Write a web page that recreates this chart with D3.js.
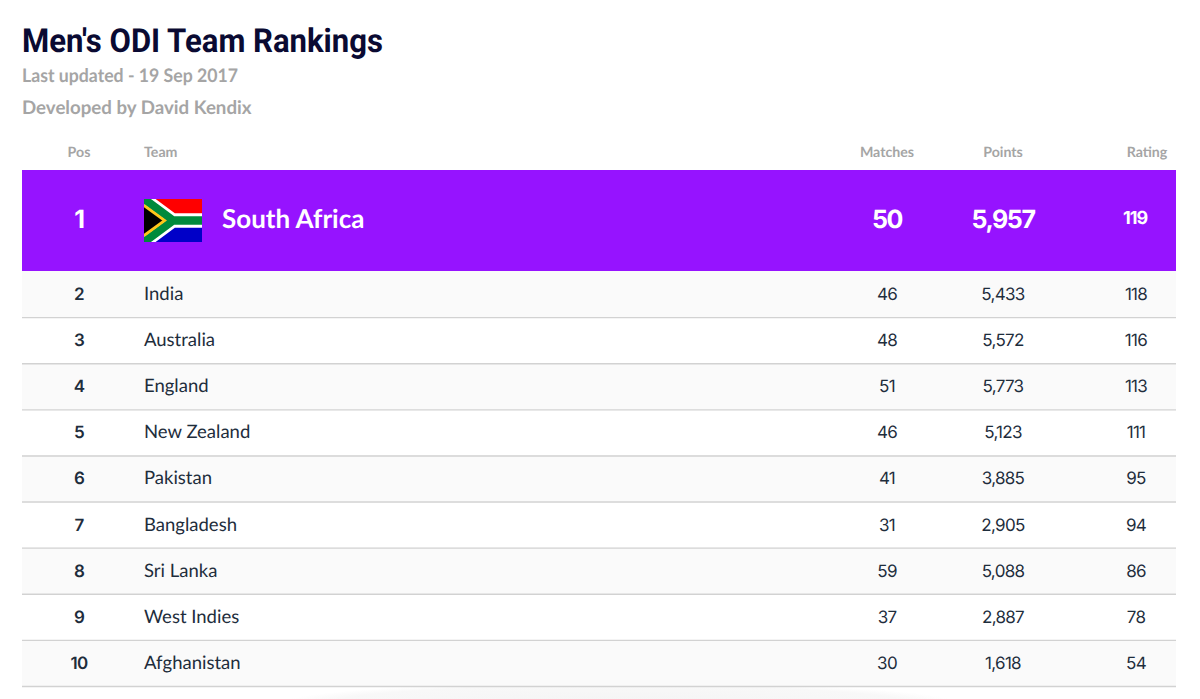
<!DOCTYPE html>
<html>
<head>
<meta charset="utf-8">
<script src="https://cdn.jsdelivr.net/npm/d3@7"></script>
<style>
html, body { margin: 0; padding: 0; background: #fff; overflow: hidden; }
svg { display: block; }
text { text-rendering: geometricPrecision; }
</style>
</head>
<body>
<svg id="chart" width="1200" height="699"></svg>
<script>
var positions = [1, 2, 3, 4, 5, 6, 7, 8, 9, 10];
var teams = ['South Africa', 'India', 'Australia', 'England', 'New Zealand', 'Pakistan', 'Bangladesh', 'Sri Lanka', 'West Indies', 'Afghanistan'];
var matches = [50, 46, 48, 51, 46, 41, 31, 59, 37, 30];
var points = [5957, 5433, 5572, 5773, 5123, 3885, 2905, 5088, 2887, 1618];
var ratings = [119, 118, 116, 113, 111, 95, 94, 86, 78, 54];
var headers = ['Pos', 'Team', 'Matches', 'Points', 'Rating'];

var left = 22, right = 1176;
var svg = d3.select('#chart');
var fmt = d3.format(',');

// columns
var col = { pos: 79, team: 144, matches: 887, points: 1003, rating: 1135 };

// rows below the highlighted one
var y = d3.scaleBand().domain(positions.slice(1)).range([271, 686]);

var shadow = svg.append('defs').append('radialGradient').attr('id', 'shade');
shadow.append('stop').attr('offset', '0%').attr('stop-color', '#f4f4f4');
shadow.append('stop').attr('offset', '85%').attr('stop-color', '#f8f8f8');
shadow.append('stop').attr('offset', '100%').attr('stop-color', '#fff');
svg.append('ellipse').attr('cx', 620).attr('cy', 704).attr('rx', 340).attr('ry', 22).attr('fill', 'url(#shade)');

svg.append('text').text("Men's ODI Team Rankings")
    .attr('x', 22).attr('y', 52)
    .attr('textLength', 361).attr('lengthAdjust', 'spacingAndGlyphs')
    .style('font', '700 33px Roboto').attr('fill', '#0a0a32');

svg.append('text').text('Last updated - 19 Sep 2017')
    .attr('x', 22).attr('y', 82)
    .attr('textLength', 216).attr('lengthAdjust', 'spacingAndGlyphs')
    .style('font', '700 18.7px Lato').attr('fill', '#a5a5a5');
svg.append('text').text('Developed by David Kendix')
    .attr('x', 22).attr('y', 114)
    .style('font', '700 18.7px Lato').attr('fill', '#a5a5a5');

// header
var headX = [79, 144, 887, 1003, 1147];
var headAnchor = ['middle', 'start', 'middle', 'middle', 'middle'];
svg.selectAll('.head').data(headers).enter().append('text')
    .attr('class', 'head').text(d => d)
    .attr('x', (d, i) => headX[i]).attr('y', 157)
    .attr('text-anchor', (d, i) => headAnchor[i])
    .style('font', '700 14.2px Lato').attr('fill', '#a5a5a5');

// first place
svg.append('rect').attr('x', left).attr('y', 170).attr('width', right - left).attr('height', 101).attr('fill', '#9613ff');

var flag = svg.append('svg').attr('x', 144).attr('y', 199).attr('width', 58).attr('height', 43)
    .attr('viewBox', '0 0 90 60').attr('preserveAspectRatio', 'none');
flag.append('rect').attr('width', 90).attr('height', 30).attr('fill', '#f00');
flag.append('rect').attr('y', 30).attr('width', 90).attr('height', 30).attr('fill', '#0000c8');
flag.append('path').attr('d', 'M0 0L45 30L0 60M45 30H90').attr('fill', 'none').attr('stroke', '#fff').attr('stroke-width', 20);
flag.append('path').attr('d', 'M0 0L45 30L0 60M45 30H90').attr('fill', 'none').attr('stroke', '#008a3c').attr('stroke-width', 12);
flag.append('path').attr('d', 'M0 9L32 30L0 51').attr('fill', '#000').attr('stroke', '#ffc61a').attr('stroke-width', 4);

var bigNum = { font: '700 25px Inter', spacing: '-1.4px' };
var topRow = svg.append('g').attr('fill', '#fff');
topRow.append('text').text(teams[0]).attr('x', 222).attr('y', 228).style('font', '700 26px Lato');
[[positions[0], col.pos], [matches[0], col.matches], [fmt(points[0]), col.points]].forEach(function(c) {
    topRow.append('text').text(c[0]).attr('x', c[1]).attr('y', 228).attr('text-anchor', 'middle')
        .style('font', bigNum.font).style('letter-spacing', bigNum.spacing);
});
topRow.append('text').text(ratings[0]).attr('x', col.rating).attr('y', 224).attr('text-anchor', 'middle')
    .style('font', '700 18px Inter').style('letter-spacing', '-1px');

// the other nine
var rest = positions.slice(1);

svg.selectAll('.band').data(rest).enter().append('rect')
    .attr('class', 'band')
    .attr('x', left).attr('y', d => y(d)).attr('width', right - left).attr('height', y.bandwidth())
    .attr('fill', d => d % 2 === 0 ? '#fafafa' : '#fff');

var rows = svg.selectAll('.row').data(rest).enter().append('g')
    .attr('class', 'row')
    .attr('transform', d => 'translate(0,' + y(d) + ')');

rows.append('line').attr('x1', left).attr('x2', right)
    .attr('y1', y.bandwidth() + 0.5).attr('y2', y.bandwidth() + 0.5)
    .attr('stroke', '#d2d2d2').attr('stroke-width', 1.4);

function numCell(value, x, weight) {
    rows.append('text').text(value).attr('x', x).attr('y', 29).attr('text-anchor', 'middle')
        .style('font', weight + ' 17px Inter').style('letter-spacing', '-0.7px').attr('fill', '#1e2d3c');
}

rows.append('text').text(d => teams[d - 1]).attr('x', col.team).attr('y', 29)
    .style('font', '400 18.5px Lato').attr('fill', '#1e2d3c');
numCell(d => d, col.pos, 600);
numCell(d => matches[d - 1], col.matches, 400);
numCell(d => fmt(points[d - 1]), col.points, 400);
numCell(d => ratings[d - 1], col.rating + 1, 400);
</script>
</body>
</html>
